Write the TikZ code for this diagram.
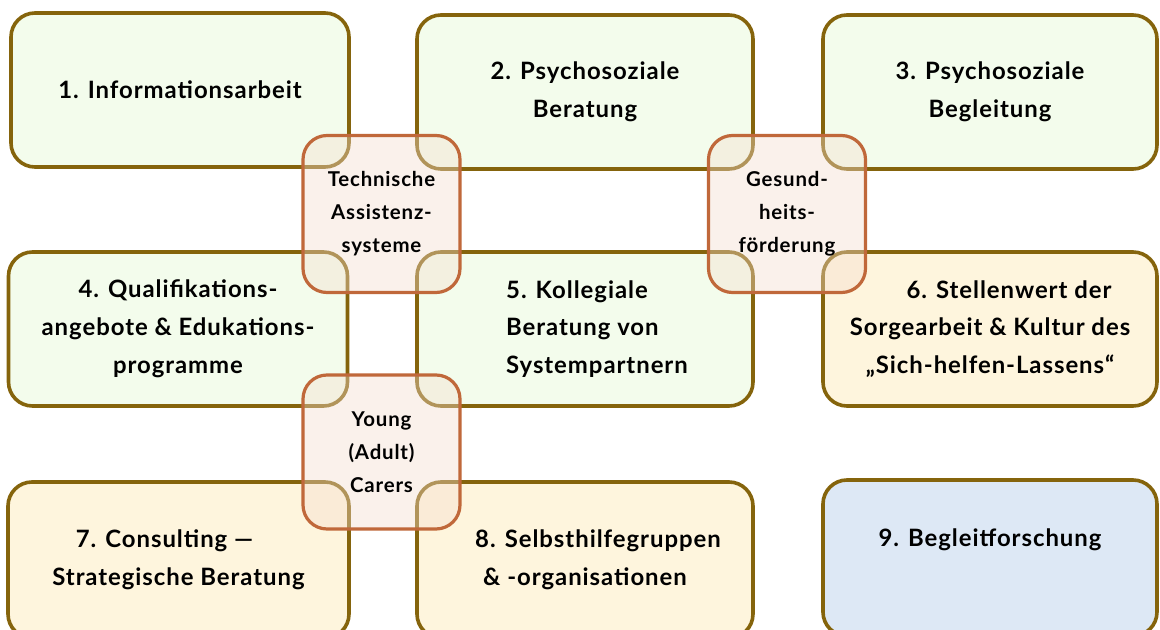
\documentclass[tikz,border=0pt]{standalone}
\usepackage{fontspec}
\setmainfont{Lato}[LetterSpace=4]
\definecolor{bigborder}{RGB}{133,100,12}
\definecolor{greenfill}{RGB}{243,252,236}
\definecolor{yellowfill}{RGB}{254,245,221}
\definecolor{bluefill}{RGB}{221,232,245}
\definecolor{smallborder}{RGB}{192,104,58}
\definecolor{smallfill}{RGB}{244,222,207}
\tikzset{
  bigfont/.style={font=\bfseries\fontsize{24}{38}\selectfont},
  bigbox/.style={draw=bigborder, line width=3.6bp, rounded corners=24bp,
    minimum width=338bp, minimum height=154bp, align=center, inner sep=0pt,
    bigfont},
  greenbox/.style={bigbox, fill=greenfill},
  yellowbox/.style={bigbox, fill=yellowfill},
  bluebox/.style={bigbox, fill=bluefill},
  smallbox/.style={draw=smallborder, line width=3.2bp, rounded corners=24bp,
    fill=smallfill, fill opacity=0.4, text opacity=1, draw opacity=1,
    minimum width=157bp, minimum height=157bp, align=center, inner sep=0pt,
    font=\bfseries\fontsize{20.5}{33}\selectfont}
}
\begin{document}
\begin{tikzpicture}[x=1bp,y=-1bp]
\useasboundingbox (0,0) rectangle (1160,630);
\clip (0,0) rectangle (1160,630);
\fill[white] (0,0) rectangle (1160,630);
% row 1
\node[greenbox, minimum width=338bp] (b1) at (180,90) {1. Informationsarbeit};
\node[greenbox, minimum width=336bp] (b2) at (585,92) {2. Psychosoziale\\Beratung};
\node[greenbox, minimum width=334bp] (b3) at (990,92) {3. Psychosoziale\\Begleitung};
% row 2
\node[greenbox, minimum width=339bp] (b4) at (178,329) {4. Qualifikations-\\angebote \& Edukations-\\programme};
\node[greenbox, minimum width=336bp, align=left] (b5) at (585,329) {\hspace*{24bp}5. Kollegiale\\\hspace*{24bp}Beratung von\\\hspace*{24bp}Systempartnern};
\node[yellowbox, minimum width=334bp] (b6) at (990,329) {\hspace*{38bp}6. Stellenwert der\\Sorgearbeit \& Kultur des\\„Sich-helfen-Lassens“};
% row 3
\node[yellowbox, minimum width=341bp, minimum height=156bp] (b7) at (178.5,560) {7. Consulting —\hspace*{28bp}\\Strategische Beratung};
\node[yellowbox, minimum width=336bp, minimum height=156bp] (b8) at (585,560) {\hspace*{26bp}8. Selbsthilfegruppen\\\& -organisationen};
\node[bluebox, minimum width=334bp, minimum height=156bp] (b9) at (990,558) {};
\node[bigfont] (t9) at (990,540) {9. Begleitforschung};
% overlapping small boxes
\node[smallbox] (s1) at (381.5,214) {Technische\\Assistenz-\\systeme};
\node[smallbox] (s2) at (787,214) {Gesund-\\heits-\\förderung};
\node[smallbox, minimum height=154bp] (s3) at (381.5,452) {Young\\(Adult)\\Carers};
\end{tikzpicture}
\end{document}
